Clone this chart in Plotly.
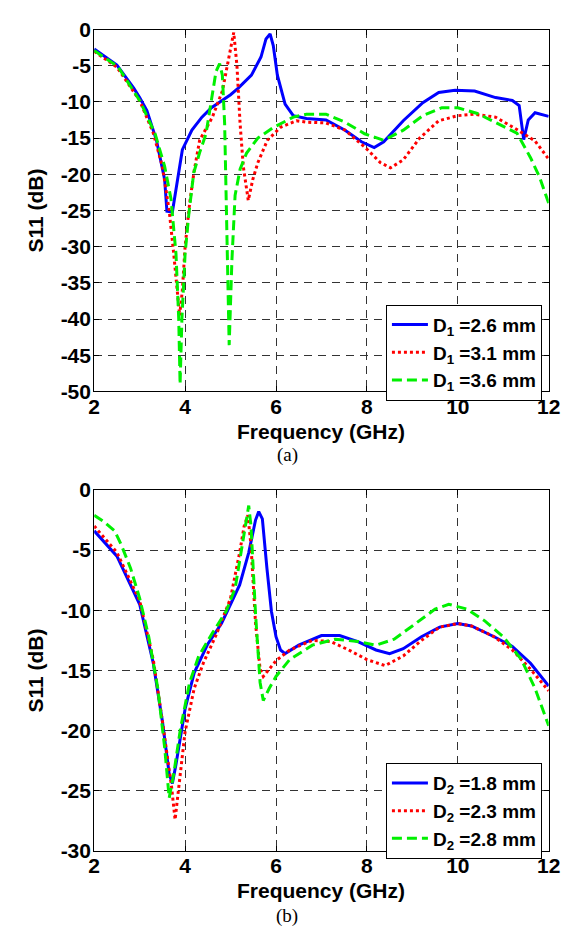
import plotly.graph_objects as go

# ---------------- data: panel (a) ----------------
freq_a_d26 = [2.0, 2.5, 2.87, 3.0, 3.16, 3.37, 3.55, 3.6, 3.72, 3.83, 3.94, 4.15, 4.37, 4.58, 4.75, 5.0, 5.17,
              5.46, 5.67, 5.78, 5.87, 5.94, 6.03, 6.2, 6.38, 6.67, 7.1, 7.52, 7.88, 8.16, 8.37, 8.8, 9.23, 9.58,
              9.94, 10.37, 10.83, 11.2, 11.35, 11.45, 11.55, 11.7, 12.0]
s11_a_d26 = [-2.7, -4.9, -8.1, -9.4, -11.2, -15.3, -20.7, -25.1, -25.2, -21.1, -16.6, -13.9, -12.1, -10.8, -10.1,
             -9.0, -8.1, -6.3, -3.8, -1.3, -0.6, -2.2, -6.3, -10.3, -11.9, -12.3, -12.5, -13.9, -15.5, -16.3,
             -15.5, -12.6, -10.1, -8.7, -8.4, -8.5, -9.4, -9.8, -10.5, -15.2, -12.5, -11.5, -12.0]

freq_a_d31 = [2.0, 2.5, 3.0, 3.3, 3.5, 3.65, 3.75, 3.82, 3.88, 3.94, 4.0, 4.1, 4.2, 4.32, 4.6, 4.82, 4.96, 5.07,
              5.14, 5.21, 5.28, 5.39, 5.49, 5.6, 5.81, 6.1, 6.45, 6.67, 7.1, 7.52, 7.98, 8.3, 8.52, 8.8, 9.16,
              9.58, 10.0, 10.37, 10.83, 11.3, 11.7, 12.0]
s11_a_d31 = [-3.0, -5.2, -9.8, -14.3, -18.9, -25.0, -31.0, -36.0, -39.5, -36.0, -30.0, -24.0, -19.5, -15.3, -12.1,
             -8.5, -4.0, -0.4, -4.9, -13.0, -18.9, -23.6, -20.7, -18.4, -15.3, -13.5, -12.6, -12.8, -12.9, -13.9,
             -16.4, -18.4, -19.1, -18.0, -15.0, -12.6, -11.9, -11.7, -12.1, -13.8, -15.4, -17.9]

freq_a_d36 = [2.0, 2.52, 3.01, 3.34, 3.55, 3.69, 3.8, 3.86, 3.89, 3.93, 4.0, 4.08, 4.19, 4.32, 4.46, 4.57, 4.68,
              4.76, 4.82, 4.87, 4.92, 4.97, 5.03, 5.1, 5.21, 5.35, 5.6, 5.95, 6.38, 6.67, 7.1, 7.52, 7.95, 8.37,
              8.8, 9.23, 9.65, 10.0, 10.43, 10.83, 11.3, 11.6, 11.8, 12.0]
s11_a_d36 = [-2.9, -5.1, -9.9, -14.4, -18.9, -23.4, -31.0, -40.0, -49.0, -40.0, -31.0, -25.6, -19.8, -17.0, -14.4,
             -9.9, -5.8, -4.7, -6.3, -13.0, -26.5, -43.6, -31.9, -22.9, -19.3, -17.1, -15.0, -13.5, -12.1, -11.7,
             -11.7, -12.8, -14.4, -15.3, -13.9, -11.9, -10.8, -10.8, -11.6, -12.8, -14.3, -17.7, -20.4, -24.0]

# ---------------- data: panel (b) ----------------
freq_b_d18 = [2.0, 2.5, 3.0, 3.3, 3.5, 3.65, 3.72, 3.8, 4.0, 4.2, 4.5, 4.8, 5.0, 5.2, 5.4, 5.55, 5.62, 5.7, 5.8,
              5.9, 6.0, 6.1, 6.2, 6.5, 7.0, 7.4, 7.8, 8.2, 8.5, 8.8, 9.2, 9.6, 10.0, 10.3, 10.8, 11.2, 11.6, 12.0]
s11_b_d18 = [-3.4, -5.5, -9.5, -14.4, -19.2, -23.6, -24.4, -22.8, -18.2, -15.2, -12.8, -11.1, -9.5, -7.9, -5.2,
             -2.5, -1.8, -2.4, -6.5, -10.1, -12.2, -13.3, -13.6, -12.9, -12.1, -12.1, -12.6, -13.3, -13.6, -13.2,
             -12.2, -11.4, -11.1, -11.3, -12.2, -13.0, -14.4, -16.3]

freq_b_d23 = [2.0, 2.5, 3.0, 3.3, 3.5, 3.7, 3.78, 3.85, 4.0, 4.2, 4.4, 4.7, 5.0, 5.2, 5.3, 5.38, 5.45, 5.55, 5.65,
              5.72, 5.85, 6.0, 6.3, 6.8, 7.2, 7.6, 8.0, 8.4, 8.8, 9.2, 9.6, 10.0, 10.3, 10.8, 11.2, 11.6, 12.0]
s11_b_d23 = [-3.0, -5.2, -9.2, -14.1, -19.2, -24.6, -27.4, -24.9, -20.1, -16.5, -14.4, -11.9, -9.0, -5.2, -3.0,
             -2.1, -4.6, -11.1, -14.9, -15.5, -14.9, -14.2, -13.3, -12.5, -12.6, -13.3, -14.1, -14.6, -13.8,
             -12.5, -11.4, -11.1, -11.3, -12.2, -13.3, -14.9, -16.7]

freq_b_d28 = [2.0, 2.2, 2.45, 2.6, 2.8, 3.0, 3.2, 3.4, 3.55, 3.65, 3.75, 3.9, 4.1, 4.3, 4.6, 4.9, 5.1, 5.3, 5.4,
              5.45, 5.55, 5.65, 5.72, 5.85, 6.0, 6.3, 6.8, 7.3, 7.8, 8.2, 8.6, 9.0, 9.5, 9.8, 10.2, 10.6, 11.0,
              11.4, 11.7, 12.0]
s11_b_d28 = [-2.1, -2.6, -3.4, -4.6, -6.5, -9.0, -12.2, -16.5, -21.4, -25.6, -23.6, -19.8, -16.0, -13.8, -11.9,
             -10.1, -8.2, -3.6, -1.3, -3.0, -10.3, -16.0, -17.5, -16.5, -15.5, -14.1, -12.9, -12.4, -12.6, -12.9,
             -12.4, -11.3, -9.9, -9.5, -9.9, -10.9, -12.2, -14.1, -16.5, -19.6]

names_a = ["D<sub>1</sub> =2.6 mm", "D<sub>1</sub> =3.1 mm", "D<sub>1</sub> =3.6 mm"]
names_b = ["D<sub>2</sub> =1.8 mm", "D<sub>2</sub> =2.3 mm", "D<sub>2</sub> =2.8 mm"]

x_ticks = [2, 4, 6, 8, 10, 12]
x_ticktext = ["2", "4", "6", "8", "10", "12"]
y_ticks_a = [0, -5, -10, -15, -20, -25, -30, -35, -40, -45, -50]
y_ticktext_a = ["0", "-5", "-10", "-15", "-20", "-25", "-30", "-35", "-40", "-45", "-50"]
y_ticks_b = [0, -5, -10, -15, -20, -25, -30]
y_ticktext_b = ["0", "-5", "-10", "-15", "-20", "-25", "-30"]

x_title = "Frequency (GHz)"
y_title = "S11 (dB)"
captions = ["(a)", "(b)"]

# ---------------- figure ----------------
W, H = 583, 937
FONT = "Arial, Helvetica, sans-serif"
SERIF = "Times New Roman, Liberation Serif, serif"
styles = [dict(color="#0000FF", dash="solid"),
          dict(color="#FF0000", dash="3px,3px"),
          dict(color="#00F000", dash="10px,5px")]

fig = go.Figure()
series_a = [(freq_a_d26, s11_a_d26), (freq_a_d31, s11_a_d31), (freq_a_d36, s11_a_d36)]
series_b = [(freq_b_d18, s11_b_d18), (freq_b_d23, s11_b_d23), (freq_b_d28, s11_b_d28)]

for (fx, sy), nm, st in zip(series_a, names_a, styles):
    fig.add_trace(go.Scatter(x=fx, y=sy, name=nm, mode="lines", xaxis="x", yaxis="y", legend="legend",
                             line=dict(color=st["color"], dash=st["dash"], width=3)))
for (fx, sy), nm, st in zip(series_b, names_b, styles):
    fig.add_trace(go.Scatter(x=fx, y=sy, name=nm, mode="lines", xaxis="x2", yaxis="y2", legend="legend2",
                             line=dict(color=st["color"], dash=st["dash"], width=3)))

x_dom = [91 / W, 560 / W]
ya_px = (18, 389)
yb_px = (490, 860)
ya_dom = [1 - ya_px[1] / H, 1 - ya_px[0] / H]
yb_dom = [1 - yb_px[1] / H, 1 - yb_px[0] / H]

tickfont = dict(family=FONT, size=21, color="black", weight="bold")
titlefont = dict(family=FONT, size=21, color="black", weight="bold")
common_axis = dict(showline=True, linecolor="black", linewidth=1, mirror="allticks", ticks="inside",
                   ticklen=5, tickcolor="black", showgrid=True, gridcolor="#333333", gridwidth=1,
                   griddash="8px,6px", zeroline=False, tickfont=tickfont)
x_axis = dict(common_axis, ticklabelstandoff=-4)
y_axis = dict(common_axis, ticklabelstandoff=-2)

legend_common = dict(x=553 / W, xanchor="right", yanchor="top", bgcolor="white",
                     bordercolor="black", borderwidth=1, itemwidth=36, tracegroupgap=0,
                     font=dict(family=FONT, size=19, color="black", weight="bold"))

annotations = []
for (top, bot), xt_y, cap, cap_y in [(ya_px, 430, captions[0], 454), (yb_px, 901, captions[1], 927)]:
    annotations.append(dict(text=x_title, x=(91 + 560) / 2 / W, y=1 - xt_y / H, xref="paper", yref="paper",
                            showarrow=False, xanchor="center", yanchor="middle", font=titlefont))
    annotations.append(dict(text=y_title, x=30 / W, y=1 - (top + bot) / 2 / H, xref="paper", yref="paper",
                            showarrow=False, xanchor="center", yanchor="middle", textangle=-90, font=titlefont))
    annotations.append(dict(text=cap, x=290 / W, y=1 - cap_y / H, xref="paper", yref="paper", showarrow=False,
                            xanchor="center", yanchor="middle", font=dict(family=SERIF, size=19, color="black")))

fig.update_layout(
    width=W, height=H, margin=dict(l=0, r=0, t=0, b=0),
    paper_bgcolor="white", plot_bgcolor="white",
    xaxis=dict(domain=x_dom, range=[2, 12], tickvals=x_ticks, ticktext=x_ticktext, anchor="y", **x_axis),
    yaxis=dict(domain=ya_dom, range=[-50, 0], tickvals=y_ticks_a, ticktext=y_ticktext_a, anchor="x", **y_axis),
    xaxis2=dict(domain=x_dom, range=[2, 12], tickvals=x_ticks, ticktext=x_ticktext, anchor="y2", **x_axis),
    yaxis2=dict(domain=yb_dom, range=[-30, 0], tickvals=y_ticks_b, ticktext=y_ticktext_b, anchor="x2", **y_axis),
    legend=dict(legend_common, y=1 - 300 / H),
    legend2=dict(legend_common, y=1 - 770 / H),
    annotations=annotations,
    showlegend=True,
)

# remove the default page margin so the figure sits at the window's top-left corner
fig.write_html("out.html", config={"displayModeBar": False},
               post_script="document.body.style.margin='0';document.body.style.overflow='hidden';")
